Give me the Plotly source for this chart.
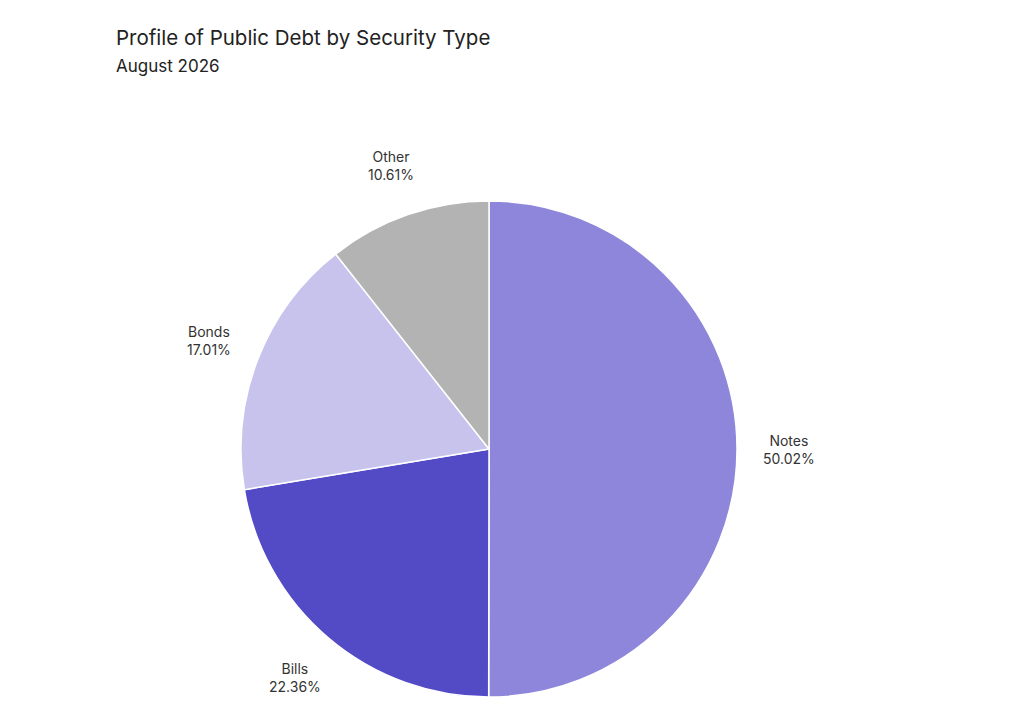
import math
import plotly.graph_objects as go

# Datos del gráfico
tipos = ["Notes", "Bills", "Bonds", "Other"]
porcentajes = [50.02, 22.36, 17.01, 10.61]
colores = ["#8d86db", "#534bc6", "#c8c3ed", "#b3b3b3"]

titulo = "Profile of Public Debt by Security Type"
subtitulo = "August 2026"

# Geometría (px) del lienzo y del pastel; la página añade 8 px de margen
W, H = 1024, 712
off = 8
cx, cy, R = 489 - off, 449 - off, 248
r_etiqueta = 300

fig = go.Figure(go.Pie(
    labels=tipos,
    values=porcentajes,
    sort=False,
    direction="clockwise",
    rotation=0,
    marker=dict(colors=colores, line=dict(color="white", width=1.5)),
    textinfo="none",
    hoverinfo="label+percent",
    domain=dict(x=[(cx - R) / W, (cx + R) / W], y=[(H - cy - R) / H, (H - cy + R) / H]),
))

# Etiquetas fuera del pastel, centradas en el ángulo medio de cada porción
total = sum(porcentajes)
acum = 0
for tipo, val in zip(tipos, porcentajes):
    medio = (acum + val / 2) / total * 2 * math.pi
    acum += val
    px = cx + r_etiqueta * math.sin(medio)
    py = cy - r_etiqueta * math.cos(medio)
    fig.add_annotation(
        x=px / W, y=1 - py / H, xref="paper", yref="paper",
        text=f"{tipo}<br>{val:.2f}%", showarrow=False,
        xanchor="center", yanchor="middle", align="center",
        font=dict(size=14, color="#333333"),
    )

# Título y subtítulo
fig.add_annotation(
    x=(114 - off) / W, y=1 - (37 - off) / H, xref="paper", yref="paper",
    text=titulo, showarrow=False, xanchor="left", yanchor="middle",
    font=dict(size=20.5, color="#222222"),
)
fig.add_annotation(
    x=(114 - off) / W, y=1 - (66 - off) / H, xref="paper", yref="paper",
    text=subtitulo, showarrow=False, xanchor="left", yanchor="middle",
    font=dict(size=17, color="#222222"),
)

fig.update_layout(
    width=W, height=H,
    margin=dict(l=0, r=0, t=0, b=0),
    paper_bgcolor="white",
    showlegend=False,
    font=dict(family="Inter, Roboto, sans-serif", color="#222222"),
)

fig.write_html("out.html")
